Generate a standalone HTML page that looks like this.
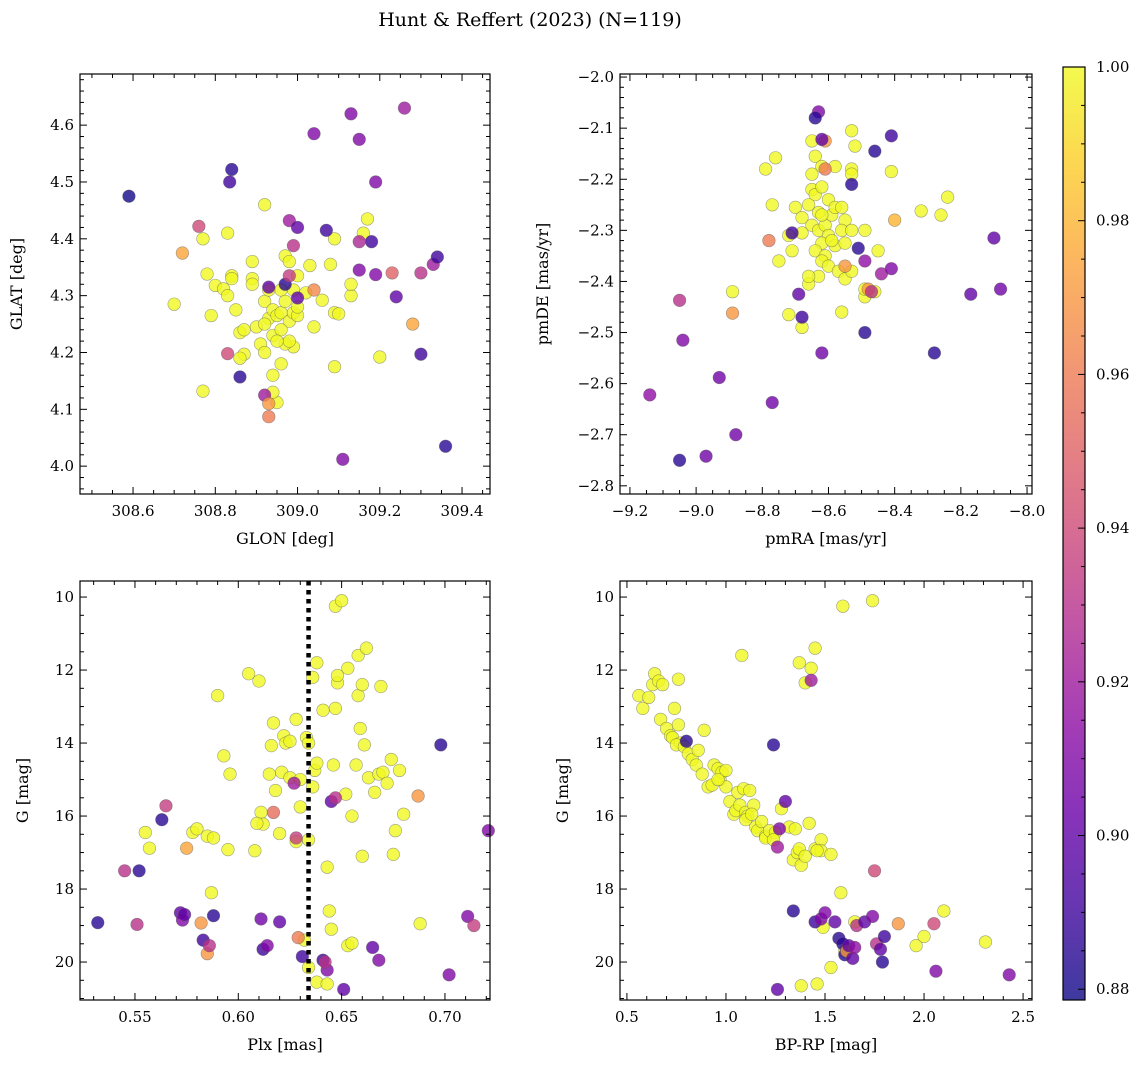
<!DOCTYPE html>
<html><head><meta charset="utf-8"><style>
html,body{margin:0;padding:0;background:#fff;}
svg{display:block;font-family:"DejaVu Serif","Liberation Serif",serif;}
</style></head><body>
<svg id="fig" width="1148" height="1067" viewBox="0 0 1148 1067" xmlns="http://www.w3.org/2000/svg">
<defs>
<linearGradient id="plasma" x1="0" y1="1" x2="0" y2="0">
<stop offset="0" stop-color="#0d0887"/><stop offset="0.1" stop-color="#41049d"/><stop offset="0.2" stop-color="#6a00a8"/><stop offset="0.3" stop-color="#8f0da4"/><stop offset="0.4" stop-color="#b12a90"/><stop offset="0.5" stop-color="#cc4778"/><stop offset="0.6" stop-color="#e16462"/><stop offset="0.7" stop-color="#f2844b"/><stop offset="0.8" stop-color="#fca636"/><stop offset="0.9" stop-color="#fcce25"/><stop offset="1" stop-color="#f0f921"/>
</linearGradient>
</defs>
<text x="530" y="26" text-anchor="middle" font-size="19">Hunt &amp; Reffert (2023) (N=119)</text>
</svg>
<script>
// ---- data ----
const p1NonX=[308.59,308.84,308.835,308.76,308.72,308.83,308.86,308.92,308.93,308.93,308.93,308.97,308.98,309.0,308.99,308.98,309.0,309.04,309.07,309.04,309.13,309.15,309.26,309.19,309.18,309.15,309.15,309.19,309.23,309.24,309.30,309.33,309.34,309.28,309.30,309.36,309.11];
const p1NonY=[4.475,4.522,4.50,4.422,4.375,4.198,4.157,4.125,4.11,4.087,4.315,4.32,4.432,4.42,4.388,4.335,4.296,4.585,4.415,4.31,4.62,4.575,4.63,4.50,4.395,4.395,4.345,4.337,4.34,4.298,4.34,4.355,4.368,4.25,4.197,4.035,4.012];
const p1NonP=[0.88,0.885,0.89,0.94,0.975,0.94,0.885,0.92,0.97,0.96,0.90,0.885,0.92,0.90,0.93,0.935,0.90,0.91,0.89,0.965,0.91,0.91,0.92,0.91,0.89,0.925,0.91,0.91,0.95,0.90,0.93,0.92,0.89,0.975,0.89,0.885,0.91];
const p1YesX=[308.70,308.77,308.78,308.79,308.80,308.82,308.83,308.84,308.84,308.83,308.85,308.86,308.87,308.87,308.86,308.89,308.89,308.89,308.90,308.92,308.92,308.93,308.92,308.91,308.92,308.94,308.94,308.95,308.96,308.97,308.98,308.96,308.98,308.99,309.00,309.00,309.0,309.02,308.99,308.97,308.94,308.96,308.95,308.94,308.77,309.03,309.04,309.06,309.08,309.09,309.09,309.10,309.09,309.13,309.13,309.16,309.17,309.20,308.98,308.96,308.97,308.99,308.93,308.95];
const p1YesY=[4.285,4.40,4.338,4.265,4.318,4.312,4.41,4.335,4.33,4.30,4.275,4.235,4.24,4.197,4.19,4.36,4.33,4.32,4.245,4.46,4.29,4.26,4.25,4.215,4.20,4.23,4.275,4.265,4.27,4.37,4.36,4.31,4.255,4.27,4.265,4.28,4.335,4.305,4.21,4.215,4.16,4.18,4.112,4.13,4.132,4.353,4.245,4.292,4.355,4.40,4.27,4.268,4.175,4.30,4.32,4.41,4.435,4.192,4.22,4.24,4.29,4.31,4.31,4.22];

const p2NonX=[-8.63,-8.64,-8.61,-8.62,-8.61,-8.53,-8.46,-8.41,-8.78,-8.71,-8.51,-8.55,-8.49,-8.48,-8.47,-8.44,-8.41,-8.40,-8.10,-8.17,-8.08,-8.28,-8.49,-8.62,-8.68,-8.69,-9.05,-9.04,-8.89,-9.14,-8.93,-8.77,-8.88,-8.97,-9.05];
const p2NonY=[-2.068,-2.08,-2.125,-2.122,-2.18,-2.21,-2.145,-2.115,-2.32,-2.305,-2.335,-2.37,-2.36,-2.415,-2.42,-2.385,-2.375,-2.28,-2.315,-2.425,-2.415,-2.54,-2.50,-2.54,-2.47,-2.425,-2.437,-2.515,-2.462,-2.622,-2.588,-2.637,-2.70,-2.742,-2.75];
const p2NonP=[0.91,0.885,0.97,0.90,0.96,0.885,0.885,0.89,0.96,0.89,0.885,0.97,0.915,0.97,0.93,0.92,0.91,0.98,0.90,0.90,0.905,0.885,0.885,0.905,0.89,0.90,0.93,0.91,0.97,0.915,0.905,0.905,0.905,0.905,0.885];
const p2YesX=[-8.53,-8.52,-8.65,-8.64,-8.76,-8.79,-8.62,-8.58,-8.53,-8.53,-8.41,-8.24,-8.32,-8.26,-8.65,-8.65,-8.64,-8.62,-8.6,-8.63,-8.66,-8.77,-8.70,-8.68,-8.72,-8.71,-8.68,-8.65,-8.63,-8.61,-8.59,-8.58,-8.56,-8.55,-8.56,-8.60,-8.62,-8.64,-8.61,-8.58,-8.55,-8.53,-8.49,-8.62,-8.60,-8.57,-8.55,-8.63,-8.66,-8.66,-8.75,-8.56,-8.49,-8.49,-8.46,-8.68,-8.72,-8.89,-8.53,-8.45,-8.62,-8.59];
const p2YesY=[-2.105,-2.135,-2.125,-2.155,-2.158,-2.18,-2.175,-2.175,-2.18,-2.19,-2.185,-2.235,-2.262,-2.27,-2.19,-2.22,-2.23,-2.215,-2.24,-2.265,-2.25,-2.25,-2.255,-2.275,-2.31,-2.34,-2.305,-2.29,-2.30,-2.29,-2.27,-2.255,-2.255,-2.28,-2.30,-2.31,-2.325,-2.34,-2.35,-2.33,-2.325,-2.30,-2.30,-2.36,-2.37,-2.38,-2.395,-2.39,-2.405,-2.39,-2.36,-2.46,-2.43,-2.415,-2.42,-2.49,-2.465,-2.42,-2.38,-2.34,-2.27,-2.32];

const p3NonX=[0.532,0.545,0.552,0.551,0.563,0.565,0.572,0.573,0.574,0.575,0.582,0.583,0.585,0.586,0.588,0.611,0.612,0.614,0.617,0.620,0.627,0.628,0.629,0.631,0.641,0.643,0.642,0.645,0.647,0.651,0.665,0.668,0.687,0.698,0.702,0.711,0.714,0.721];
const p3NonY=[18.92,17.5,17.5,18.97,16.1,15.72,18.65,18.85,18.7,16.88,18.93,19.4,19.77,19.55,18.73,18.82,19.65,19.55,15.9,18.9,15.1,16.6,19.33,19.85,19.95,20.22,20.0,15.6,15.5,20.75,19.6,19.95,15.45,14.05,20.35,18.75,19.0,16.4];
const p3NonP=[0.885,0.93,0.885,0.93,0.885,0.935,0.9,0.91,0.9,0.975,0.97,0.89,0.97,0.93,0.885,0.905,0.89,0.91,0.955,0.90,0.92,0.935,0.96,0.89,0.89,0.91,0.93,0.90,0.93,0.9,0.9,0.91,0.97,0.885,0.91,0.91,0.935,0.91];
const p3YesX=[0.555,0.557,0.578,0.580,0.585,0.588,0.587,0.590,0.593,0.595,0.596,0.605,0.608,0.610,0.611,0.612,0.615,0.616,0.617,0.618,0.620,0.621,0.622,0.625,0.623,0.625,0.628,0.628,0.630,0.633,0.634,0.634,0.636,0.637,0.638,0.638,0.638,0.641,0.643,0.643,0.644,0.645,0.646,0.647,0.648,0.647,0.648,0.650,0.652,0.653,0.653,0.655,0.655,0.657,0.658,0.658,0.659,0.660,0.660,0.661,0.662,0.663,0.666,0.668,0.669,0.670,0.672,0.674,0.675,0.676,0.678,0.680,0.688,0.636,0.630,0.609,0.634,0.632];
const p3YesY=[16.45,16.88,16.45,16.35,16.55,16.6,18.1,12.7,14.35,16.92,14.85,12.1,16.95,12.3,15.9,16.22,14.85,14.07,13.45,15.3,16.48,14.8,13.8,14.95,14.0,13.95,16.7,13.35,15.75,13.85,16.65,14.0,12.2,14.75,14.55,11.8,20.55,13.1,20.6,17.4,18.6,19.1,14.6,13.05,12.35,10.25,12.15,10.1,15.4,11.95,19.55,19.48,16.0,14.6,11.6,12.7,13.6,12.4,17.1,14.05,11.4,14.95,15.35,14.85,12.45,14.8,15.1,14.45,17.05,16.4,14.75,15.95,18.95,15.2,15.0,16.2,20.15,19.4];

const p4NonX=[0.80,1.24,1.30,1.27,1.26,1.43,1.34,1.45,1.48,1.50,1.55,1.57,1.59,1.60,1.61,1.62,1.64,1.66,1.70,1.74,1.76,1.78,1.80,1.79,1.75,1.87,2.05,2.06,2.43,1.26,1.65];
const p4NonY=[13.95,14.05,15.6,16.35,16.85,12.28,18.6,18.9,18.82,18.65,18.9,19.35,19.5,19.8,19.7,19.55,19.9,19.0,18.9,18.75,19.5,19.65,19.3,20.0,17.5,18.95,18.95,20.25,20.35,20.75,19.6];
const p4NonP=[0.885,0.885,0.9,0.91,0.92,0.92,0.885,0.89,0.91,0.91,0.9,0.885,0.885,0.885,0.97,0.9,0.9,0.93,0.9,0.91,0.93,0.9,0.89,0.885,0.94,0.97,0.94,0.91,0.91,0.9,0.915];
const p4YesX=[0.56,0.58,0.61,0.63,0.64,0.66,0.68,0.67,0.70,0.72,0.73,0.74,0.76,0.76,0.77,0.75,0.79,0.81,0.83,0.85,0.86,0.88,0.89,0.91,0.93,0.94,0.96,0.97,0.98,1.00,1.02,1.04,1.05,1.06,1.07,1.08,1.09,1.10,1.11,1.12,1.14,1.15,1.16,1.18,1.20,1.20,1.22,1.25,1.24,1.28,1.32,1.35,1.34,1.36,1.37,1.38,1.40,1.42,1.45,1.48,1.48,1.53,1.46,1.37,1.40,1.43,1.45,1.59,1.74,1.49,1.58,1.53,1.38,1.46,1.60,1.65,1.96,2.00,2.10,2.31,1.10,1.13,1.00,0.96];
const p4YesY=[12.7,13.05,12.75,12.4,12.1,12.3,12.4,13.35,13.6,13.8,13.85,13.05,13.5,12.25,14.0,14.05,14.1,14.3,14.45,14.6,14.2,14.85,13.65,15.2,15.15,14.6,14.7,15.0,14.8,15.2,15.6,15.95,15.85,15.35,15.7,11.6,15.25,15.9,16.0,15.3,15.7,16.3,16.4,16.15,16.55,16.6,16.4,16.45,16.65,15.8,16.3,16.35,17.2,17.0,16.9,17.35,17.1,16.2,16.9,16.65,16.95,17.05,16.95,11.8,12.35,11.95,11.4,10.25,10.1,19.05,18.1,20.15,20.65,20.6,19.7,18.9,19.55,19.3,18.6,19.45,16.1,15.95,14.75,15.0];

const plxRef=[0.634];
const cbTicks=[0.88,0.90,0.92,0.94,0.96,0.98,1.00];

// ---- drawing ----
const NS="http://www.w3.org/2000/svg";
const svg=document.getElementById('fig');
function mk(tag,attrs,parent){const e=document.createElementNS(NS,tag);for(const k in attrs)e.setAttribute(k,attrs[k]);(parent||svg).appendChild(e);return e;}
const stops=[[0,[13,8,135]],[0.1,[65,4,157]],[0.2,[106,0,168]],[0.3,[143,13,164]],[0.4,[177,42,144]],[0.5,[204,71,120]],[0.6,[225,100,98]],[0.7,[242,132,75]],[0.8,[252,166,54]],[0.9,[252,206,37]],[1,[240,249,33]]];
const CMIN=0.8786,CMAX=1.0;
function cmap(p){let t=(p-CMIN)/(CMAX-CMIN);t=Math.max(0,Math.min(1,t));for(let i=1;i<stops.length;i++){if(t<=stops[i][0]){const a=stops[i-1],b=stops[i];const f=(t-a[0])/(b[0]-a[0]);const c=a[1].map((v,j)=>Math.round(v+(b[1][j]-v)*f));return `rgb(${c[0]},${c[1]},${c[2]})`;}}return 'rgb(240,249,33)';}
function fmt(v,d){let s=v.toFixed(d);if(v<0)s='\u2212'+s.slice(1);return s;}

function panel(o){
  const g=mk('g',{});
  
  
  const sx=v=>o.L+(v-o.x0)/(o.x1-o.x0)*(o.R-o.L);
  const sy=v=>o.inv? o.T+(v-o.y0)/(o.y1-o.y0)*(o.B-o.T) : o.B-(v-o.y0)/(o.y1-o.y0)*(o.B-o.T);
  const pts=mk('g',{},g);
  
  
  const draw=(X,Y,P)=>{for(let i=0;i<X.length;i++){const c=mk('circle',{cx:sx(X[i]),cy:sy(Y[i]),r:6.3,fill:cmap(P?P[i]:1),'fill-opacity':0.8,stroke:'#555','stroke-opacity':0.55,'stroke-width':0.6},pts);
    
    }};
  draw(o.yx,o.yy,null);
  draw(o.nx,o.ny,o.np);
  if(o.vline){for(const v of o.vline){const l=mk('line',{x1:sx(v),x2:sx(v),y1:o.T,y2:o.B,stroke:'#000','stroke-width':4.5,'stroke-dasharray':'4.5,4.5'},g);
    
    }}
  const fr=mk('rect',{x:o.L,y:o.T,width:o.R-o.L,height:o.B-o.T,fill:'none',stroke:'#000','stroke-width':1.2},g);
  
  
  const eps=1e-9;
  // x ticks
  const nx=Math.round((o.x1-o.x0)/o.xminor)+2;
  let st=Math.ceil(o.x0/o.xminor-eps);
  for(let k=st;k*o.xminor<=o.x1+eps;k++){const v=k*o.xminor;const major=Math.abs(v/o.xmajor-Math.round(v/o.xmajor))<1e-6;const len=major?7:4;const x=sx(v);
    mk('line',{x1:x,x2:x,y1:o.B,y2:o.B-len,stroke:'#000','stroke-width':1},g);
    mk('line',{x1:x,x2:x,y1:o.T,y2:o.T+len,stroke:'#000','stroke-width':1},g);
    if(major){const t=mk('text',{x:x,y:o.B+22,'text-anchor':'middle','font-size':15},g);t.textContent=fmt(v,o.xd);
      
      }}
  st=Math.ceil(Math.min(o.y0,o.y1)/o.yminor-eps);
  const ymax=Math.max(o.y0,o.y1);
  for(let k=st;k*o.yminor<=ymax+eps;k++){const v=k*o.yminor;const major=Math.abs(v/o.ymajor-Math.round(v/o.ymajor))<1e-6;const len=major?7:4;const y=sy(v);
    mk('line',{x1:o.L,x2:o.L+len,y1:y,y2:y,stroke:'#000','stroke-width':1},g);
    mk('line',{x1:o.R,x2:o.R-len,y1:y,y2:y,stroke:'#000','stroke-width':1},g);
    if(major){const t=mk('text',{x:o.L-6,y:y+5,'text-anchor':'end','font-size':15},g);t.textContent=fmt(v,o.yd);
      
      }}
  const xl=mk('text',{x:(o.L+o.R)/2,y:o.B+50,'text-anchor':'middle','font-size':16},g);xl.textContent=o.xlab;
  
  
  const yx=o.ylx;const yc=(o.T+o.B)/2;
  const yl=mk('text',{x:yx,y:yc,'text-anchor':'middle','font-size':16,transform:`rotate(-90 ${yx} ${yc})`},g);yl.textContent=o.ylab;
  
  
}

panel({name:'glon-glat-panel',L:80,R:490,T:74,B:494,x0:308.471,x1:309.468,y0:3.951,y1:4.69,xmajor:0.2,xminor:0.05,ymajor:0.1,yminor:0.02,xd:1,yd:1,xlab:'GLON [deg]',ylab:'GLAT [deg]',ylx:22,nx:p1NonX,ny:p1NonY,np:p1NonP,yx:p1YesX,yy:p1YesY});
panel({name:'proper-motion-panel',L:620,R:1032,T:74,B:494,x0:-9.23,x1:-7.985,y0:-2.816,y1:-1.994,xmajor:0.2,xminor:0.05,ymajor:0.1,yminor:0.02,xd:1,yd:1,xlab:'pmRA [mas/yr]',ylab:'pmDE [mas/yr]',ylx:548,nx:p2NonX,ny:p2NonY,np:p2NonP,yx:p2YesX,yy:p2YesY});
panel({name:'parallax-magnitude-panel',L:80,R:490,T:581,B:1000,x0:0.5234,x1:0.7218,y0:9.56,y1:21.04,inv:true,xmajor:0.05,xminor:0.01,ymajor:2,yminor:0.5,xd:2,yd:0,xlab:'Plx [mas]',ylab:'G [mag]',ylx:28,nx:p3NonX,ny:p3NonY,np:p3NonP,yx:p3YesX,yy:p3YesY,vline:plxRef});
panel({name:'color-magnitude-panel',L:620,R:1032,T:581,B:1000,x0:0.465,x1:2.545,y0:9.56,y1:21.04,inv:true,xmajor:0.5,xminor:0.1,ymajor:2,yminor:0.5,xd:1,yd:0,xlab:'BP-RP [mag]',ylab:'G [mag]',ylx:568,nx:p4NonX,ny:p4NonY,np:p4NonP,yx:p4YesX,yy:p4YesY});

// colorbar
const cb=mk('g',{});


const cT=67,cB=1000,cL=1063,cR=1085;
mk('rect',{x:cL,y:cT,width:cR-cL,height:cB-cT,fill:'url(#plasma)','fill-opacity':0.8},cb);
mk('rect',{x:cL,y:cT,width:cR-cL,height:cB-cT,fill:'none',stroke:'#000','stroke-width':1.2},cb);
const cy=v=>cB-(v-CMIN)/(CMAX-CMIN)*(cB-cT);
for(let k=Math.ceil(CMIN/0.005-1e-9);k*0.005<=CMAX+1e-9;k++){const v=k*0.005;const y=cy(v);const major=Math.abs(v/0.02-Math.round(v/0.02))<1e-6;
  mk('line',{x1:cR,x2:cR-(major?7:4),y1:y,y2:y,stroke:'#000','stroke-width':1},cb);}
for(const v of cbTicks){const t=mk('text',{x:cR+11,y:cy(v)+5,'font-size':15},cb);t.textContent=v.toFixed(2);
  
  }
</script>
</body></html>
